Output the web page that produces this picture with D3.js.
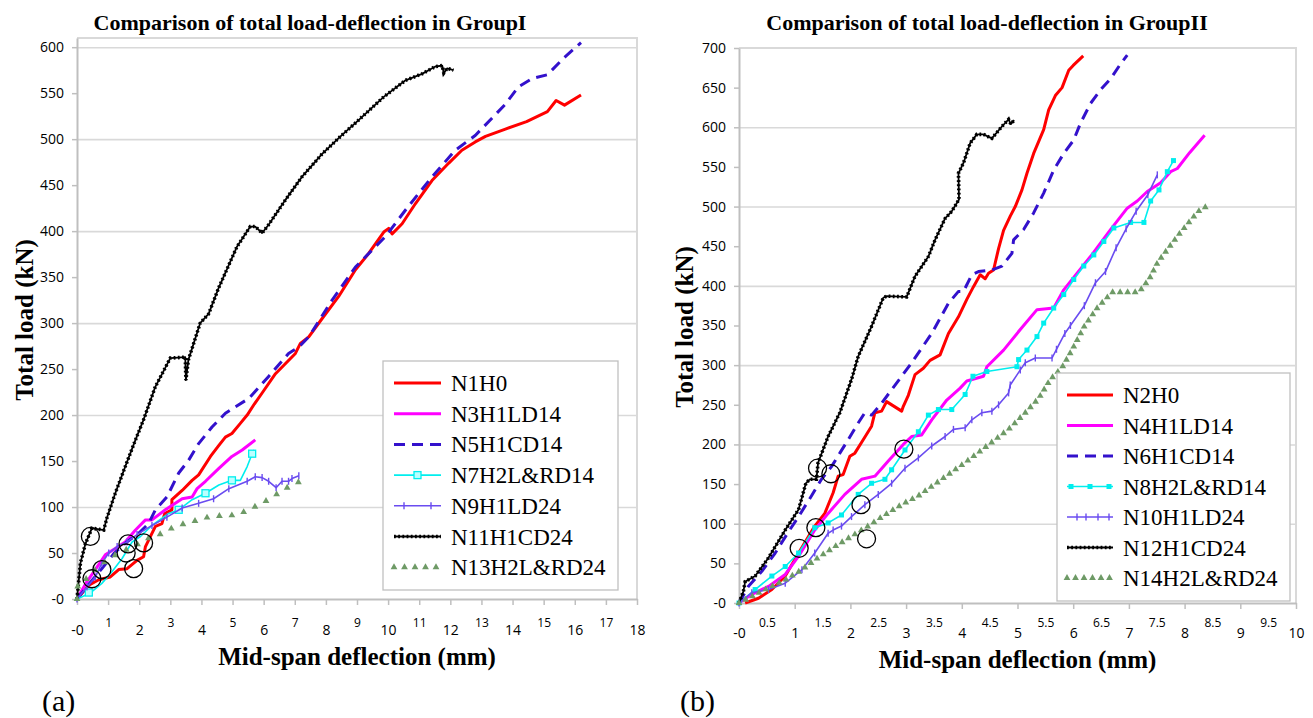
<!DOCTYPE html>
<html>
<head>
<meta charset="utf-8">
<script src="https://cdn.jsdelivr.net/npm/d3@7"></script>
<style>
body { margin: 0; background: #fff; }
.tick text { font-family: "Open Sans", "DejaVu Sans", sans-serif; fill: #000; }
</style>
</head>
<body>
<script>
// ---- Group I data (deflection mm, load kN) ----
var namesA = ["N1H0", "N3H1LD14", "N5H1CD14", "N7H2L&RD14", "N9H1LD24", "N11H1CD24", "N13H2L&RD24"];

var n1h0 = [[0,0],[0.38,15],[0.7,21],[1.07,24],[1.34,32],[1.61,33],[1.93,42],[2.14,46],[2.2,57],[2.52,79],[2.73,82],[2.82,93],[3.05,97],[3.05,108],[3.38,118],[3.7,129],[3.91,135],[4.29,155],[4.56,167],[4.77,176],[4.98,180],[5.25,191],[5.47,200],[5.7,212],[5.95,224],[6.38,245],[7.02,267],[7.18,278],[7.45,285],[7.88,305],[8.41,329],[8.95,358],[9.38,376],[9.86,399],[10.02,403],[10.13,397],[10.45,408],[10.88,430],[11.41,455],[11.95,474],[12.37,488],[12.8,497],[13.13,503],[13.77,511],[14.45,519],[15.12,530],[15.4,542],[15.67,537],[16.2,548]];
var n3h1ld14 = [[0,0],[0.32,19],[0.59,32],[0.91,48],[1.23,55],[1.55,62],[1.88,75],[2.2,86],[2.41,86],[2.84,97],[3.38,109],[3.7,111],[3.86,120],[4.13,128],[4.56,142],[4.98,155],[5.31,162],[5.73,173]];
var n5h1cd14 = [[0,0],[0.4,17],[0.8,33],[1.2,50],[1.6,62],[2.0,72],[2.3,82],[2.52,97],[2.89,111],[3.27,137],[3.59,151],[3.91,169],[4.34,187],[4.77,202],[5.09,209],[5.52,218],[6.16,242],[6.8,267],[7.13,274],[7.45,285],[8.2,325],[8.95,361],[9.91,394],[10.56,423],[11.41,459],[12.16,488],[12.8,504],[13.77,538],[14.19,557],[14.64,566],[15.12,570],[15.67,589],[16.2,605]];
var n7h2lrd14 = [[0,0],[0.27,4],[0.48,8],[0.8,17],[1.13,30],[1.45,44],[1.61,53],[1.77,62],[2.04,68],[2.41,80],[2.95,93],[3.27,97],[3.7,108],[4.13,115],[4.56,124],[4.98,129],[5.25,129],[5.47,144],[5.63,158],[5.7,162]];
var n7marks = [[0.38,7],[3.27,97],[4.13,115],[4.98,129],[5.63,158]];
var n9h1ld24 = [[0,0],[0.32,13],[0.59,24],[0.8,39],[1.02,50],[1.29,57],[1.61,62],[1.93,70],[2.41,80],[2.89,89],[3.38,99],[3.91,104],[4.39,109],[4.88,120],[5.47,128],[5.73,133],[5.95,132],[6.16,128],[6.4,121],[6.59,128],[6.8,128],[6.91,131],[7.13,134]];
var n11h1cd24 = [[0,0],[0.11,39],[0.27,60],[0.48,77],[0.86,75],[0.96,88],[1.23,115],[1.55,144],[1.88,173],[2.14,195],[2.52,231],[3.0,262],[3.48,263],[3.5,238],[3.58,260],[3.96,300],[4.23,310],[4.55,338],[5.14,383],[5.57,405],[5.73,405],[5.95,398],[6.16,407],[6.7,434],[7.23,459],[7.88,484],[8.47,503],[9.06,521],[9.86,546],[10.56,564],[11.09,571],[11.52,579],[11.74,580],[11.79,572],[11.9,577],[12.1,575]];
var n13h2lrd24 = [[0,0],[0.03,17],[0.27,21],[0.7,35],[1.13,46],[1.55,53],[1.98,60],[2.41,68],[2.73,71],[3.16,79],[3.7,84],[4.23,89],[4.77,91],[5.14,91],[5.52,97],[5.95,104],[6.38,113],[6.8,122],[7.18,128]];
var crackA = [[0.43,68],[0.48,22],[0.8,32],[1.64,60],[1.58,50],[1.82,33],[2.14,61]];

// ---- Group II data ----
var namesB = ["N2H0", "N4H1LD14", "N6H1CD14", "N8H2L&RD14", "N10H1LD24", "N12H1CD24", "N14H2L&RD24"];

var n2h0 = [[0.11,0],[0.35,6],[0.59,17],[0.83,34],[1.07,63],[1.36,97],[1.54,113],[1.69,139],[1.78,160],[1.87,162],[1.99,185],[2.08,189],[2.23,206],[2.38,223],[2.44,240],[2.56,242],[2.65,254],[2.92,242],[2.95,248],[3.04,262],[3.16,288],[3.31,296],[3.43,306],[3.61,313],[3.76,340],[3.94,361],[4.09,383],[4.21,399],[4.33,414],[4.42,409],[4.48,416],[4.57,420],[4.66,447],[4.75,470],[4.87,488],[4.96,500],[5.08,521],[5.17,542],[5.29,567],[5.47,597],[5.56,622],[5.68,640],[5.8,650],[5.92,672],[6.0,678],[6.18,690]];
var n4h1ld14 = [[0,0],[0.23,11],[0.53,21],[0.83,36],[1.07,59],[1.36,92],[1.6,113],[1.9,137],[2.2,156],[2.44,160],[2.68,179],[2.95,200],[3.1,210],[3.28,212],[3.46,231],[3.73,256],[3.97,271],[4.09,280],[4.39,286],[4.45,298],[4.75,319],[5.05,345],[5.35,370],[5.65,372],[5.83,395],[6.07,416],[6.31,437],[6.67,471],[6.97,498],[7.15,507],[7.33,519],[7.57,530],[7.75,544],[7.87,548],[8.09,568],[8.36,590]];
var n6h1cd14 = [[0,0],[0.17,21],[0.41,40],[0.65,63],[0.89,90],[1.07,109],[1.3,135],[1.48,156],[1.66,172],[1.81,189],[1.96,206],[2.14,227],[2.26,240],[2.38,237],[2.56,252],[2.74,269],[3.1,303],[3.46,340],[3.76,378],[3.94,393],[4.03,393],[4.18,414],[4.3,418],[4.54,420],[4.72,425],[4.9,441],[4.93,458],[5.11,471],[5.29,492],[5.47,517],[5.65,546],[5.83,567],[6.01,584],[6.13,605],[6.31,630],[6.5,648],[6.68,662],[6.85,680],[6.97,691]];
var n8h2lrd14 = [[0,0],[0.29,17],[0.59,34],[0.83,46],[1.07,63],[1.36,95],[1.6,101],[1.84,111],[2.14,137],[2.38,151],[2.62,156],[2.74,168],[2.98,193],[3.22,216],[3.4,237],[3.58,244],[3.82,244],[4.06,263],[4.2,286],[4.45,292],[4.99,298],[5.02,307],[5.17,319],[5.35,336],[5.47,353],[5.65,372],[5.83,389],[6.01,408],[6.19,425],[6.37,439],[6.55,456],[6.73,473],[7.03,480],[7.27,480],[7.39,507],[7.54,521],[7.69,544],[7.8,558]];
var n10h1ld24 = [[0,0],[0.23,13],[0.53,17],[0.83,25],[1.13,42],[1.36,63],[1.6,88],[1.69,92],[1.84,97],[2.02,109],[2.26,124],[2.5,137],[2.74,151],[2.98,170],[3.22,183],[3.46,198],[3.7,210],[3.85,219],[4.06,221],[4.18,231],[4.36,240],[4.54,242],[4.66,250],[4.84,265],[4.87,275],[5.05,294],[5.14,303],[5.32,309],[5.62,309],[5.7,320],[5.85,340],[5.95,350],[6.2,375],[6.4,404],[6.58,418],[6.77,448],[6.95,472],[7.13,494],[7.34,515],[7.51,540]];
var n12h1cd24 = [[0,0],[0.08,15],[0.11,27],[0.29,34],[0.53,57],[0.83,92],[1.07,118],[1.2,151],[1.27,156],[1.39,156],[1.42,177],[1.6,210],[1.81,240],[2.02,282],[2.14,311],[2.38,349],[2.59,385],[2.65,387],[3.01,386],[3.16,412],[3.4,437],[3.52,458],[3.7,485],[3.82,494],[3.95,509],[3.94,542],[4.03,555],[4.15,580],[4.27,591],[4.39,591],[4.54,586],[4.72,601],[4.84,610],[4.88,604],[4.94,609]];
var n14h2lrd24 = [[0,0],[0.23,8],[0.53,19],[0.83,29],[1.13,42],[1.42,57],[1.72,71],[2.02,84],[2.32,97],[2.62,111],[2.92,124],[3.22,135],[3.46,147],[3.76,162],[4.06,177],[4.36,193],[4.6,206],[4.84,219],[5.1,237],[5.38,258],[5.59,282],[5.8,297],[6.0,322],[6.2,349],[6.43,372],[6.7,392],[7.18,392],[7.36,408],[7.52,430],[7.68,445],[7.9,465],[8.1,482],[8.25,494],[8.39,500]];
var crackB = [[1.41,170],[1.65,163],[1.38,95],[1.08,69],[2.19,124],[2.29,81],[2.96,194]];

// ---- axis ticks ----
var xTicksA = d3.range(0, 19, 1);
var yTicksA = d3.range(0, 601, 50);
var gridA = [100, 200, 300, 400, 500, 600];
var xTicksB = d3.range(0, 10.01, 0.5);
var yTicksB = d3.range(0, 701, 50);
var gridB = [100, 200, 300, 400, 500, 600];

var colors = ["#ff0000", "#ff00ff", "#3311cc", "#00eeee", "#6a4cf0", "#000000", "#6e9a66"];

var svg = d3.select("body").append("svg")
.attr("width", 1313)
.attr("height", 718)
.style("background", "#fff");

function fmt(d) { return d === 0 ? "-0" : String(d); }

function styleOf(i, panel) {
  var s = {color: colors[i], width: 1.6, dash: null, marker: "none"};
  if (i === 0 || i === 1) s.width = 3;
  if (i === 2) { s.width = 3; s.dash = "11,7"; }
  if (i === 3) s.marker = panel === "a" ? "squareHollow" : "squareFilled";
  if (i === 4) s.marker = "tick";
  if (i === 5) { s.marker = "dots"; s.width = 1.8; }
  if (i === 6) s.marker = "triangles";
  return s;
}

function drawMarkers(g, s, pts, spacingPath, tri) {
  if (s.marker === "squareHollow") {
    g.selectAll(null).data(pts).enter().append("rect")
    .attr("x", function(d) { return d[0] - 3.5; }).attr("y", function(d) { return d[1] - 3.5; })
    .attr("width", 7).attr("height", 7)
    .attr("fill", "#bff") .attr("stroke", s.color).attr("stroke-width", 1.3);
  }
  if (s.marker === "squareFilled") {
    g.selectAll(null).data(pts).enter().append("rect")
    .attr("x", function(d) { return d[0] - 2.5; }).attr("y", function(d) { return d[1] - 2.5; })
    .attr("width", 5).attr("height", 5)
    .attr("fill", s.color);
  }
  if (s.marker === "tick") {
    g.selectAll(null).data(pts).enter().append("line")
    .attr("x1", function(d) { return d[0]; }).attr("x2", function(d) { return d[0]; })
    .attr("y1", function(d) { return d[1] - 3.5; }).attr("y2", function(d) { return d[1] + 3.5; })
    .attr("stroke", s.color).attr("stroke-width", 1.4);
  }
  if (s.marker === "triangles") {
    var node = spacingPath.node();
    var len = node.getTotalLength();
    for (var l = 0; l <= len + 0.1; l += tri) {
      var p = node.getPointAtLength(l);
      g.append("path")
      .attr("d", d3.symbol(d3.symbolTriangle, 20)())
      .attr("transform", "translate(" + p.x + "," + p.y + ")")
      .attr("fill", s.color);
    }
  }
}

function drawPanel(p) {
  var xScale = d3.scaleLinear().domain([0, p.xMax]).range([p.left, p.right]);
  var yScale = d3.scaleLinear().domain([0, p.yMax]).range([p.bottom, p.top]);
  var g = svg.append("g");

  // gridlines
  var grid = g.append("g")
  .attr("transform", "translate(" + p.left + ",0)")
  .call(d3.axisLeft(yScale).tickValues(p.grid).tickSize(-(p.right - p.left)).tickFormat(""));
  grid.select(".domain").remove();
  grid.selectAll("line").attr("stroke", "#d9d9d9").attr("stroke-width", 1.6);

  // plot frame (top and right)
  g.append("path")
  .attr("d", "M" + p.left + "," + p.top + "H" + p.right + "V" + p.bottom)
  .attr("fill", "none").attr("stroke", "#d9d9d9").attr("stroke-width", 2);

  // y axis
  var yAxisGroup = g.append("g")
  .attr("transform", "translate(" + p.left + ",0)")
  .call(d3.axisLeft(yScale).tickValues(p.yTicks).tickSize(5).tickSizeOuter(0).tickPadding(8).tickFormat(fmt));
  yAxisGroup.select(".domain").attr("stroke", "#bfbfbf").attr("stroke-width", 2);
  yAxisGroup.selectAll(".tick line").attr("stroke", "#bfbfbf").attr("stroke-width", 1.5);
  yAxisGroup.selectAll(".tick text").style("font-size", "14px");

  // x axis with staggered labels
  var xAxisGroup = g.append("g")
  .attr("transform", "translate(0," + p.bottom + ")")
  .call(d3.axisBottom(xScale).tickValues(p.xTicks).tickSize(6).tickSizeOuter(0).tickFormat(fmt));
  xAxisGroup.select(".domain").attr("stroke", "#bfbfbf").attr("stroke-width", 2);
  xAxisGroup.selectAll(".tick line").attr("stroke", "#bfbfbf").attr("stroke-width", 1.5)
  .attr("y2", function(d) { return p.isMinor(d) && p.hideMinorTick ? 0 : 6; });
  xAxisGroup.selectAll(".tick text")
  .attr("dy", "0.35em")
  .attr("y", function(d) { return p.isMinor(d) ? p.minorY : p.majorY; })
  .style("font-size", function(d) { return p.isMinor(d) ? "12px" : "14px"; });

  // series
  var linePath = d3.line()
  .x(function(d) { return xScale(d[0]); })
  .y(function(d) { return yScale(d[1]); });

  p.series.forEach(function(data, i) {
    var s = styleOf(i, p.tag);
    var path = g.append("path")
    .attr("d", linePath(data))
    .attr("fill", "none")
    .attr("stroke", s.marker === "triangles" ? "none" : s.color)
    .attr("stroke-width", s.width)
    .attr("stroke-linejoin", "round")
    .attr("stroke-dasharray", s.dash);
    if (s.marker === "dots") {
      g.append("path").attr("d", linePath(data)).attr("fill", "none")
      .attr("stroke", s.color).attr("stroke-width", 3.6).attr("stroke-dasharray", "1.8,2.4");
    }
    var pts = (s.marker === "squareHollow" ? p.cyanMarks : data).map(function(d) { return [xScale(d[0]), yScale(d[1])]; });
    drawMarkers(g, s, pts, path, p.triStep);
  });

  // cracking circles
  g.selectAll(null).data(p.cracks).enter().append("circle")
  .attr("cx", function(d) { return xScale(d[0]); })
  .attr("cy", function(d) { return yScale(d[1]); })
  .attr("r", 9)
  .attr("fill", "none").attr("stroke", "#000").attr("stroke-width", 1.3);

  // legend
  var L = p.legend;
  var lg = g.append("g");
  lg.append("rect")
  .attr("x", L.x).attr("y", L.y).attr("width", L.w).attr("height", L.h)
  .attr("fill", "#fff").attr("stroke", "#c0c0c0").attr("stroke-width", 1.3);
  p.names.forEach(function(name, i) {
    var s = styleOf(i, p.tag);
    var ry = L.row0 + i * L.step;
    var sample = lg.append("path")
    .attr("d", d3.line()([[L.lx0, ry], [L.lx1, ry]]))
    .attr("fill", "none")
    .attr("stroke", s.marker === "triangles" ? "none" : s.color)
    .attr("stroke-width", s.width)
    .attr("stroke-dasharray", s.dash);
    if (s.marker === "dots") {
      lg.append("path").attr("d", d3.line()([[L.lx0, ry], [L.lx1, ry]])).attr("fill", "none")
      .attr("stroke", s.color).attr("stroke-width", 3.6).attr("stroke-dasharray", "1.8,2.4");
    }
    var mid = (L.lx0 + L.lx1) / 2;
    var mpts = [];
    if (s.marker === "squareHollow") mpts = [[mid, ry]];
    if (s.marker === "squareFilled") mpts = [[L.lx0 + 4, ry], [mid, ry], [L.lx1 - 4, ry]];
    if (s.marker === "tick") mpts = p.tag === "a" ? [[L.lx0 + 10, ry], [L.lx1 - 10, ry]] : [[L.lx0 + 10, ry], [mid - 4, ry], [mid + 8, ry], [L.lx1 - 4, ry]];
    drawMarkers(lg, s, mpts, sample, L.triStep);
    lg.append("text")
    .attr("x", L.tx).attr("y", ry).attr("dy", "0.35em")
    .style("font-family", "'Liberation Serif', 'Times New Roman', serif")
    .style("font-size", "23px")
    .text(name);
  });

  // titles
  g.append("text")
  .attr("x", p.titleX).attr("y", 30).attr("text-anchor", "middle")
  .style("font-family", "'Liberation Serif', 'Times New Roman', serif")
  .style("font-weight", "bold").style("font-size", "22px")
  .text(p.title);
  g.append("text")
  .attr("x", (p.left + p.right) / 2).attr("y", p.xTitleY).attr("text-anchor", "middle")
  .style("font-family", "'Liberation Serif', 'Times New Roman', serif")
  .style("font-weight", "bold").style("font-size", "25px")
  .text("Mid-span deflection (mm)");
  g.append("text")
  .attr("transform", "translate(" + p.yTitleX + "," + p.yTitleY + ") rotate(-90)")
  .attr("text-anchor", "middle").attr("dy", "0.35em")
  .style("font-family", "'Liberation Serif', 'Times New Roman', serif")
  .style("font-weight", "bold").style("font-size", "25px")
  .text("Total load (kN)");
  g.append("text")
  .attr("x", p.tagX).attr("y", 711)
  .style("font-family", "'Liberation Serif', 'Times New Roman', serif")
  .style("font-size", "30px")
  .text("(" + p.tag + ")");
}

drawPanel({
  tag: "a", title: "Comparison of total load-deflection in GroupI", titleX: 310,
  left: 77, right: 637, top: 38, bottom: 599, xMax: 18, yMax: 610,
  xTicks: xTicksA, yTicks: yTicksA, grid: gridA,
  isMinor: function(d) { return d % 2 === 1; }, hideMinorTick: false, majorY: 31, minorY: 24,
  series: [n1h0, n3h1ld14, n5h1cd14, n7h2lrd14, n9h1ld24, n11h1cd24, n13h2lrd24],
  names: namesA, cyanMarks: n7marks, cracks: crackA, triStep: 12.5,
  legend: {x: 383, y: 361, w: 235, h: 229, row0: 383, step: 30.7, lx0: 394, lx1: 441, tx: 451, triStep: 10.5},
  xTitleY: 665, yTitleX: 24, yTitleY: 320, tagX: 42
});

drawPanel({
  tag: "b", title: "Comparison of total load-deflection in GroupII", titleX: 987,
  left: 739, right: 1296, top: 48, bottom: 603, xMax: 10, yMax: 700,
  xTicks: xTicksB, yTicks: yTicksB, grid: gridB,
  isMinor: function(d) { return d % 1 !== 0; }, hideMinorTick: true, majorY: 30, minorY: 20,
  series: [n2h0, n4h1ld14, n6h1cd14, n8h2lrd14, n10h1ld24, n12h1cd24, n14h2lrd24],
  names: namesB, cyanMarks: null, cracks: crackB, triStep: 7.5,
  legend: {x: 1057, y: 373, w: 233, h: 228, row0: 395, step: 30.5, lx0: 1067, lx1: 1113, tx: 1123, triStep: 8.5},
  xTitleY: 668, yTitleX: 684, yTitleY: 327, tagX: 680
});
</script>
</body>
</html>
